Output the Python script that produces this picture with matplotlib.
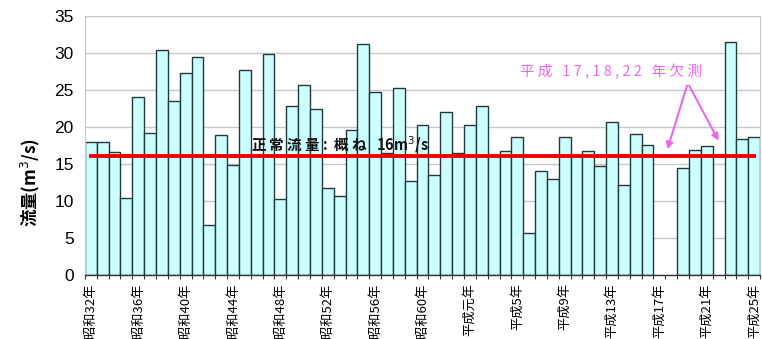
import matplotlib
matplotlib.use("Agg")
import matplotlib.pyplot as plt
import numpy as np

plt.rcParams['font.family'] = ['Liberation Sans', 'Noto Sans CJK JP', 'DejaVu Sans']

# Years: 昭和32年 (1957) .. 平成25年 (2013)
years = list(range(1957, 2014))
flow = [18.0, 18.0, 16.6, 10.4, 24.0, 19.2, 30.4, 23.5, 27.2, 29.4,
        6.7, 18.9, 14.8, 27.7, 16.2, 29.8, 10.2, 22.8, 25.6, 22.4,
        11.7, 10.6, 19.6, 31.2, 24.7, 16.5, 25.3, 12.7, 20.2, 13.5,
        22.0, 16.5, 20.3, 22.8, 16.0, 16.8, 18.6, 5.7, 14.1, 13.0,
        18.6, 16.1, 16.8, 14.7, 20.6, 12.1, 19.0, 17.5, np.nan, np.nan,
        14.5, 16.9, 17.4, np.nan, 31.4, 18.3, 18.6]
normal_flow = 16.0

def year_label(y):
    if y < 1989:
        return f"昭和{y - 1925}年"
    if y == 1989:
        return "平成元年"
    return f"平成{y - 1988}年"

tick_years = years[::4]
tick_labels = [year_label(y) for y in tick_years]

fig = plt.figure(figsize=(7.62, 3.39), dpi=100)
ax = fig.add_axes([0.1115, 0.1888, 0.886, 0.765])

x = np.arange(len(years))
vals = np.array(flow, dtype=float)
mask = ~np.isnan(vals)
ax.bar(x[mask], vals[mask], width=1.0, color='#CCFFFF', edgecolor='#1F3A3A',
       linewidth=1.0, zorder=2)

ax.plot([x[0], x[-1]], [normal_flow, normal_flow], color='#EE0000', lw=2.8, zorder=3)

ax.set_xlim(-0.5, len(years) - 0.5)
ax.set_ylim(0, 35)
ax.set_yticks(np.arange(0, 36, 5))
ax.yaxis.grid(True, color='#C8C8C8', lw=1.0, zorder=0)
ax.set_axisbelow(True)
ax.tick_params(axis='y', length=0, labelsize=12.5, pad=8)

tick_pos = [years.index(y) for y in tick_years]
ax.set_xticks(tick_pos)
ax.set_xticklabels(tick_labels, rotation=90, fontsize=9.5,
                   family=['Noto Sans CJK JP'])
ax.tick_params(axis='x', length=0, pad=6)
ax.set_xticks(np.arange(-0.5, len(years), 1.0), minor=True)
ax.tick_params(axis='x', which='minor', length=3, color='#333333', width=0.8)

for s in ['top', 'right', 'left']:
    ax.spines[s].set_color('#C8C8C8')
ax.spines['bottom'].set_color('#333333')
ax.spines['bottom'].set_linewidth(1.0)

fig.text(0.04, 0.46, "流量(m$^3$/s)", rotation=90, fontsize=12.5, fontweight='bold',
         ha='center', va='center', family=['Noto Sans CJK JP'])

ax.text(21.0, 17.6, "正 常 流 量 :  概 ね   16m$^3$/s",
        fontsize=10.5, fontweight='bold', ha='center', va='center', color='#111111',
        zorder=4, family=['Noto Sans CJK JP'])

mag = '#EE66EE'
ax.text(43.9, 27.4, "平 成   1 7 , 1 8 , 2 2   年 欠 測",
        fontsize=10.5, color=mag, ha='center', va='center', zorder=4,
        family=['Noto Sans CJK JP'])
start = (50.4, 25.9)
for tgt in [(48.6, 16.6), (53.1, 17.8)]:
    ax.annotate("", xy=tgt, xytext=start,
                arrowprops=dict(arrowstyle='-|>', color=mag, lw=1.5,
                                mutation_scale=10), zorder=4)

fig.savefig("out.png", dpi=100)
